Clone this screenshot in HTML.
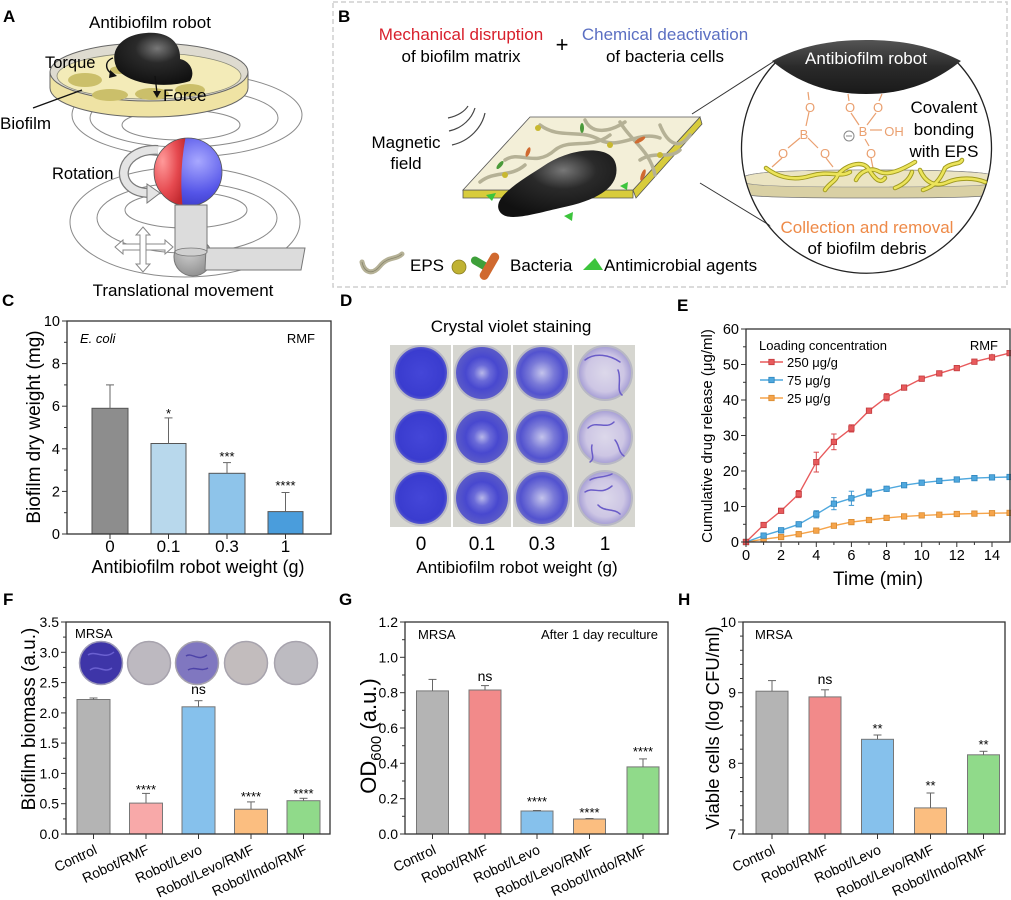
<!DOCTYPE html>
<html><head><meta charset="utf-8">
<style>
html,body{margin:0;padding:0;background:#fff;}
svg{display:block;font-family:"Liberation Sans",Arial,sans-serif;}
</style></head>
<body>
<svg width="1011" height="900" viewBox="0 0 1011 900" xmlns="http://www.w3.org/2000/svg">
<defs>
  <radialGradient id="gBlack" cx="0.55" cy="0.3" r="0.7">
    <stop offset="0" stop-color="#777"/><stop offset="0.4" stop-color="#2a2a2a"/><stop offset="1" stop-color="#111"/>
  </radialGradient>
  <linearGradient id="gRob" x1="0" y1="0" x2="0" y2="1">
    <stop offset="0" stop-color="#555"/><stop offset="0.5" stop-color="#2a2a2a"/><stop offset="1" stop-color="#1a1a1a"/>
  </linearGradient>
  <radialGradient id="gRed" cx="0.35" cy="0.35" r="0.7">
    <stop offset="0" stop-color="#ff9a9a"/><stop offset="0.6" stop-color="#e64a50"/><stop offset="1" stop-color="#c22a30"/>
  </radialGradient>
  <radialGradient id="gBlue" cx="0.6" cy="0.35" r="0.7">
    <stop offset="0" stop-color="#a8a8ff"/><stop offset="0.6" stop-color="#5555e8"/><stop offset="1" stop-color="#3535c0"/>
  </radialGradient>
  <radialGradient id="w0" cx="0.5" cy="0.5" r="0.5">
    <stop offset="0" stop-color="#4446d8"/><stop offset="0.85" stop-color="#3a3ccf"/><stop offset="1" stop-color="#5a5ccc"/>
  </radialGradient>
  <radialGradient id="w1" cx="0.5" cy="0.5" r="0.5">
    <stop offset="0" stop-color="#b8b8ea"/><stop offset="0.3" stop-color="#6a6ad8"/><stop offset="0.6" stop-color="#4848cf"/><stop offset="1" stop-color="#5c5cc8"/>
  </radialGradient>
  <radialGradient id="w2" cx="0.5" cy="0.5" r="0.5">
    <stop offset="0" stop-color="#c4c4ec"/><stop offset="0.45" stop-color="#7a7ad8"/><stop offset="0.8" stop-color="#5252cf"/><stop offset="1" stop-color="#6e6ec8"/>
  </radialGradient>
  <radialGradient id="w3" cx="0.5" cy="0.5" r="0.5">
    <stop offset="0" stop-color="#dcd8ea"/><stop offset="0.7" stop-color="#cdc6e4"/><stop offset="1" stop-color="#a49cd4"/>
  </radialGradient>
  <radialGradient id="gBall" cx="0.4" cy="0.35" r="0.7">
    <stop offset="0" stop-color="#d0d0d0"/><stop offset="1" stop-color="#8e8e8e"/>
  </radialGradient>
  <marker id="mr" markerWidth="7" markerHeight="7" refX="3.5" refY="3.5" markerUnits="userSpaceOnUse"><rect x="0.8" y="0.8" width="5.4" height="5.4" fill="#e85a5c" stroke="#c23b3e" stroke-width="0.8"/></marker>
  <marker id="mb" markerWidth="7" markerHeight="7" refX="3.5" refY="3.5" markerUnits="userSpaceOnUse"><rect x="0.8" y="0.8" width="5.4" height="5.4" fill="#4fa8de" stroke="#2f86bf" stroke-width="0.8"/></marker>
  <marker id="mo" markerWidth="7" markerHeight="7" refX="3.5" refY="3.5" markerUnits="userSpaceOnUse"><rect x="0.8" y="0.8" width="5.4" height="5.4" fill="#f6a44a" stroke="#d88a30" stroke-width="0.8"/></marker>
  <clipPath id="sph"><circle cx="188" cy="172" r="34"/></clipPath>
  <clipPath id="circB"><circle cx="866.5" cy="146" r="125"/></clipPath>
</defs>

<!-- ================= PANEL A ================= -->
<text x="3" y="22" font-size="17" font-weight="bold">A</text>
<g fill="none" stroke="#8a8a8a" stroke-width="1">
  <ellipse cx="187" cy="115" rx="115" ry="42"/>
  <ellipse cx="184" cy="118" rx="94" ry="29"/>
  <ellipse cx="181" cy="125" rx="59" ry="15"/>
  <ellipse cx="185" cy="222" rx="115" ry="55"/>
  <ellipse cx="187" cy="218" rx="90" ry="35"/>
  <ellipse cx="186" cy="210" rx="61" ry="18"/>
</g>
<!-- dish -->
<path d="M50,72 L50,88 A99,29 0 0 0 248,88 L248,72 Z" fill="#efe3a4" stroke="#666" stroke-width="1"/>
<ellipse cx="149" cy="72" rx="99" ry="29" fill="#dedbd0" stroke="#666" stroke-width="1"/>
<ellipse cx="149" cy="76" rx="92" ry="23" fill="#f3ebb8" stroke="#8a8a7a" stroke-width="0.8"/>
<g fill="#cbbf6a">
  <ellipse cx="85" cy="80" rx="17" ry="7"/>
  <ellipse cx="110" cy="95" rx="18" ry="6"/>
  <ellipse cx="152" cy="94" rx="17" ry="6"/>
  <ellipse cx="190" cy="90" rx="15" ry="6"/>
  <ellipse cx="120" cy="70" rx="10" ry="4"/>
</g>
<path d="M118,70 C108,54 118,35 146,33 C170,31 181,44 180,59 C190,61 196,72 190,81 C170,88 132,86 118,70 Z" fill="url(#gBlack)"/>
<line x1="33" y1="108" x2="82" y2="90" stroke="#111" stroke-width="1.3"/>
<path d="M113,58 C104,61 105,71 113,74" fill="none" stroke="#111" stroke-width="1.4"/>
<polygon points="110,70 117,76 109,78" fill="#111"/>
<line x1="155" y1="76" x2="157" y2="93" stroke="#111" stroke-width="1.3"/>
<polygon points="153,91 161,91 157,98" fill="#111"/>
<text x="150" y="28" font-size="17" text-anchor="middle">Antibiofilm robot</text>
<text x="45" y="68" font-size="16.5">Torque</text>
<text x="163" y="101" font-size="17">Force</text>
<text x="0" y="129" font-size="17">Biofilm</text>
<text x="52" y="179" font-size="16.5">Rotation</text>
<!-- rotation arrow -->
<path d="M158,150 C116,148 112,193 150,193" fill="none" stroke="#7a7a7a" stroke-width="10"/>
<path d="M158,150 C116,148 112,193 150,193" fill="none" stroke="#e4e4e4" stroke-width="7.5"/>
<polygon points="147,184 160,193 147,203" fill="#e4e4e4" stroke="#7a7a7a" stroke-width="1"/>
<!-- sphere -->
<g clip-path="url(#sph)">
  <rect x="150" y="135" width="80" height="75" fill="url(#gBlue)"/>
  <path d="M150,135 L186,135 C181,160 180,185 183,210 L150,210 Z" fill="url(#gRed)"/>
</g>
<circle cx="188" cy="172" r="34" fill="none" stroke="#555" stroke-width="0.8"/>
<!-- stem/base -->
<circle cx="193" cy="257" r="19" fill="url(#gBall)" stroke="#777" stroke-width="1"/>
<path d="M206,248 L305,248 L301,270 L205,270 Z" fill="#dcdcdc" stroke="#777" stroke-width="1"/>
<rect x="175" y="205" width="32" height="47" fill="#dcdcdc" stroke="#777" stroke-width="1"/>
<ellipse cx="191" cy="252" rx="16" ry="4" fill="#d0d0d0" stroke="#777" stroke-width="0.8"/>
<!-- cross arrows -->
<polygon points="115,247 123,240 123,244 165,244 165,240 173,247 165,254 165,250 123,250 123,254" fill="#fff" stroke="#888" stroke-width="1"/>
<polygon points="143,227 150,235 146,235 146,264 150,264 143,272 136,264 140,264 140,235 136,235" fill="#fff" stroke="#888" stroke-width="1"/>
<text x="183" y="296" font-size="17" text-anchor="middle">Translational movement</text>

<!-- ================= PANEL B ================= -->
<rect x="333" y="2" width="674" height="285" fill="none" stroke="#cfcfcf" stroke-width="1.5" stroke-dasharray="5,3"/>
<text x="338" y="22" font-size="17" font-weight="bold">B</text>
<text x="461" y="40" font-size="17" text-anchor="middle" fill="#d8202c">Mechanical disruption</text>
<text x="461" y="62" font-size="17" text-anchor="middle">of biofilm matrix</text>
<text x="562" y="52" font-size="22" text-anchor="middle">+</text>
<text x="665" y="40" font-size="17" text-anchor="middle" fill="#5b6fc2">Chemical deactivation</text>
<text x="665" y="62" font-size="17" text-anchor="middle">of bacteria cells</text>
<text x="406" y="148" font-size="17" text-anchor="middle">Magnetic</text>
<text x="406" y="169" font-size="17" text-anchor="middle">field</text>
<g fill="none" stroke="#444" stroke-width="1.2">
  <path d="M448,118 C458,116 465,111 468,106"/>
  <path d="M449,131 C463,128 472,118 475,108"/>
  <path d="M452,145 C470,141 482,127 485,113"/>
</g>
<!-- connecting lines -->
<line x1="692" y1="114" x2="776" y2="60" stroke="#333" stroke-width="1"/>
<line x1="700" y1="183" x2="779" y2="231" stroke="#333" stroke-width="1"/>
<!-- slab -->
<polygon points="463,190 463,198 633,198 633,190" fill="#d8cc3c" stroke="#555" stroke-width="0.8"/>
<polygon points="700,117 702,124 636,198 633,190" fill="#d8cc3c" stroke="#555" stroke-width="0.8"/>
<polygon points="463,190 530,117 700,117 633,190" fill="#f3efd8" stroke="#555" stroke-width="0.8"/>
<g fill="none" stroke="#b5b196" stroke-width="3.5" stroke-linecap="round">
  <path d="M505,160 C520,150 535,168 555,150 C570,138 590,150 610,135"/>
  <path d="M480,182 C495,170 510,178 525,165"/>
  <path d="M540,125 C560,140 580,128 600,140 C620,150 640,130 660,138"/>
  <path d="M620,122 C630,140 650,150 655,175"/>
  <path d="M660,125 C668,145 680,150 690,135"/>
  <path d="M585,120 C592,135 610,132 625,122"/>
  <path d="M560,178 C575,170 595,175 610,168"/>
  <path d="M640,160 C655,150 670,160 680,150"/>
</g>
<g>
  <circle cx="538" cy="128" r="3" fill="#c8b830"/>
  <circle cx="610" cy="145" r="3" fill="#c8b830"/>
  <circle cx="660" cy="155" r="3" fill="#c8b830"/>
  <circle cx="505" cy="175" r="3" fill="#c8b830"/>
  <ellipse cx="582" cy="128" rx="2" ry="5" fill="#4a9a3a"/>
  <ellipse cx="500" cy="165" rx="2" ry="5" fill="#4a9a3a" transform="rotate(40 500 165)"/>
  <ellipse cx="640" cy="140" rx="2" ry="6" fill="#d06a30" transform="rotate(60 640 140)"/>
  <ellipse cx="528" cy="152" rx="2" ry="5" fill="#d06a30" transform="rotate(20 528 152)"/>
  <ellipse cx="643" cy="175" rx="2" ry="6" fill="#d06a30" transform="rotate(20 643 175)"/>
</g>
<path d="M500,212 C490,198 522,180 545,165 C570,148 612,143 616,165 C620,186 600,200 560,208 C530,215 507,222 500,212 Z" fill="url(#gBlack)"/>
<g fill="#3cc43c">
  <polygon points="486,195 496,193 492,201"/>
  <polygon points="564,216 573,212 572,221"/>
  <polygon points="620,186 628,182 627,190"/>
</g>
<!-- legend B -->
<path d="M362,262 C364,272 372,276 380,266 C388,256 396,260 402,254" fill="none" stroke="#b5b196" stroke-width="5" stroke-linecap="round"/>
<path d="M362,262 C364,272 372,276 380,266 C388,256 396,260 402,254" fill="none" stroke="#8a876e" stroke-width="0.8"/>
<text x="410" y="271" font-size="17">EPS</text>
<circle cx="459" cy="267" r="7" fill="#c0b232" stroke="#8a7e20" stroke-width="0.8"/>
<rect x="470" y="260" width="22" height="8" rx="4" fill="#3ea03a" transform="rotate(30 481 264)"/>
<rect x="474" y="262" width="30" height="9" rx="4.5" fill="#d0692f" transform="rotate(-60 489 266)"/>
<text x="510" y="271" font-size="17">Bacteria</text>
<polygon points="583,270 595,258 603,270" fill="#3cc43c"/>
<text x="604" y="271" font-size="17">Antimicrobial agents</text>
<!-- zoomed circle -->
<circle cx="866.5" cy="146" r="125" fill="#fff" stroke="none"/>
<g clip-path="url(#circB)">
  <path d="M741,180 C741,174 760,170 870,170 C985,170 1000,174 1000,180 L1000,192 C1000,196 985,198 870,198 C760,198 741,196 741,192 Z" fill="#d9d0a4" stroke="#777" stroke-width="0.8"/>
  <path d="M741,180 C741,174 760,170 870,170 C985,170 1000,174 1000,180 C1000,185 985,187 870,187 C760,187 741,185 741,180 Z" fill="#ebe4c2" stroke="#888" stroke-width="0.6"/>
</g>
<path d="M776,62 A125,125 0 1 0 957,62" fill="none" stroke="#222" stroke-width="1.3"/>
<path d="M772,61 C800,46 830,40 866,40 C902,40 932,46 961,61 C935,82 905,94 866,94 C827,94 797,82 772,61 Z" fill="url(#gRob)"/>
<text x="866" y="64" font-size="17" text-anchor="middle" fill="#fff">Antibiofilm robot</text>
<!-- chemistry -->
<g stroke="#eaa070" stroke-width="1.2" fill="none">
  <line x1="808" y1="92" x2="809" y2="100"/>
  <line x1="809" y1="112" x2="806" y2="126"/>
  <line x1="800" y1="138" x2="788" y2="148"/>
  <line x1="808" y1="138" x2="818" y2="148"/>
  <line x1="782" y1="158" x2="772" y2="167"/>
  <line x1="826" y1="158" x2="833" y2="167"/>
  <line x1="848" y1="94" x2="849" y2="101"/>
  <line x1="882" y1="94" x2="879" y2="101"/>
  <line x1="851" y1="113" x2="859" y2="125"/>
  <line x1="876" y1="113" x2="867" y2="125"/>
  <line x1="870" y1="130" x2="882" y2="130"/>
  <line x1="865" y1="139" x2="869" y2="146"/>
  <line x1="871" y1="158" x2="873" y2="168"/>
</g>
<g font-size="13" fill="#eaa070" text-anchor="middle">
  <text x="810" y="112">O</text>
  <text x="804" y="139">B</text>
  <text x="783" y="158">O</text>
  <text x="825" y="158">O</text>
  <text x="850" y="112">O</text>
  <text x="878" y="112">O</text>
  <text x="863" y="136">B</text>
  <text x="894" y="136">OH</text>
  <text x="871" y="158">O</text>
</g>
<circle cx="849" cy="136" r="5" fill="none" stroke="#888" stroke-width="1"/>
<line x1="846" y1="136" x2="852" y2="136" stroke="#888" stroke-width="1"/>
<!-- yellow strands -->
<g fill="none" stroke-linecap="round">
  <g stroke="#a09a20" stroke-width="4.5">
    <path d="M766,168 C775,175 790,182 810,176 C830,170 840,178 850,172"/>
    <path d="M838,175 C845,165 862,160 868,168 C874,178 880,185 885,178"/>
    <path d="M856,180 C860,172 870,166 880,172 C890,176 905,168 915,162"/>
    <path d="M825,190 C830,182 836,182 838,174"/>
    <path d="M920,170 C925,182 935,188 948,182 C960,177 975,178 985,182"/>
    <path d="M923,190 C935,186 940,180 945,168 C952,162 960,165 962,160"/>
    <path d="M895,188 C905,184 910,178 912,172"/>
  </g>
  <g stroke="#ece45a" stroke-width="2.6">
    <path d="M766,168 C775,175 790,182 810,176 C830,170 840,178 850,172"/>
    <path d="M838,175 C845,165 862,160 868,168 C874,178 880,185 885,178"/>
    <path d="M856,180 C860,172 870,166 880,172 C890,176 905,168 915,162"/>
    <path d="M825,190 C830,182 836,182 838,174"/>
    <path d="M920,170 C925,182 935,188 948,182 C960,177 975,178 985,182"/>
    <path d="M923,190 C935,186 940,180 945,168 C952,162 960,165 962,160"/>
    <path d="M895,188 C905,184 910,178 912,172"/>
  </g>
</g>
<text x="944" y="113" font-size="17" text-anchor="middle">Covalent</text>
<text x="944" y="135" font-size="17" text-anchor="middle">bonding</text>
<text x="944" y="157" font-size="17" text-anchor="middle">with EPS</text>
<text x="867" y="233" font-size="17" text-anchor="middle" fill="#ee8a48">Collection and removal</text>
<text x="867" y="254" font-size="17" text-anchor="middle">of biofilm debris</text>

<!-- ================= PANEL C ================= -->
<text x="2" y="306" font-size="17" font-weight="bold">C</text>
<g stroke="#555" stroke-width="1">
  <rect x="92" y="408.3" width="36" height="125.7" fill="#8d8d8d"/>
  <rect x="151" y="443.5" width="35" height="90.5" fill="#b8d8ec"/>
  <rect x="209" y="473.3" width="36" height="60.7" fill="#8ec4ea"/>
  <rect x="268" y="511.6" width="35" height="22.4" fill="#4a9ddc"/>
</g>
<g stroke="#666" stroke-width="1">
  <line x1="110" y1="408.3" x2="110" y2="384.9"/><line x1="106" y1="384.9" x2="114" y2="384.9"/>
  <line x1="168.5" y1="443.5" x2="168.5" y2="417.9"/><line x1="164.5" y1="417.9" x2="172.5" y2="417.9"/>
  <line x1="227" y1="473.3" x2="227" y2="462.6"/><line x1="223" y1="462.6" x2="231" y2="462.6"/>
  <line x1="285.5" y1="511.6" x2="285.5" y2="492.5"/><line x1="281.5" y1="492.5" x2="289.5" y2="492.5"/>
</g>
<g font-size="13" text-anchor="middle">
  <text x="168.5" y="418">*</text>
  <text x="227" y="461">***</text>
  <text x="285.5" y="490">****</text>
</g>
<rect x="67" y="321" width="264" height="213" fill="none" stroke="#333" stroke-width="1.3"/>
<g stroke="#333" stroke-width="1">
  <line x1="62" y1="534" x2="67" y2="534"/><line x1="62" y1="491.4" x2="67" y2="491.4"/><line x1="62" y1="448.8" x2="67" y2="448.8"/>
  <line x1="62" y1="406.2" x2="67" y2="406.2"/><line x1="62" y1="363.6" x2="67" y2="363.6"/><line x1="62" y1="321" x2="67" y2="321"/>
  <line x1="64" y1="512.7" x2="67" y2="512.7"/><line x1="64" y1="470.1" x2="67" y2="470.1"/><line x1="64" y1="427.5" x2="67" y2="427.5"/>
  <line x1="64" y1="384.9" x2="67" y2="384.9"/><line x1="64" y1="342.3" x2="67" y2="342.3"/>
  <line x1="110" y1="534" x2="110" y2="539"/><line x1="168.5" y1="534" x2="168.5" y2="539"/>
  <line x1="227" y1="534" x2="227" y2="539"/><line x1="285.5" y1="534" x2="285.5" y2="539"/>
</g>
<g font-size="14.5" text-anchor="end">
  <text x="60" y="539">0</text><text x="60" y="496.4">2</text><text x="60" y="453.8">4</text>
  <text x="60" y="411.2">6</text><text x="60" y="368.6">8</text><text x="60" y="326">10</text>
</g>
<g font-size="17" text-anchor="middle">
  <text x="110" y="552">0</text><text x="168.5" y="552">0.1</text><text x="227" y="552">0.3</text><text x="285.5" y="552">1</text>
</g>
<text x="198" y="573" font-size="18" text-anchor="middle">Antibiofilm robot weight (g)</text>
<text transform="translate(40,427) rotate(-90)" font-size="19" text-anchor="middle">Biofilm dry weight (mg)</text>
<text x="80" y="343" font-size="13" font-style="italic">E. coli</text>
<text x="315" y="343" font-size="13" text-anchor="end">RMF</text>

<!-- ================= PANEL D ================= -->
<text x="340" y="306" font-size="17" font-weight="bold">D</text>
<text x="511" y="332" font-size="17" text-anchor="middle">Crystal violet staining</text>
<rect x="390" y="345" width="245" height="182" fill="#d6d6d0"/>
<g stroke="#fff" stroke-width="2">
  <line x1="452" y1="345" x2="452" y2="527"/><line x1="512" y1="345" x2="512" y2="527"/><line x1="573" y1="345" x2="573" y2="527"/>
</g>
<g stroke="#b8b8c4" stroke-width="2">
  <circle cx="421" cy="373" r="27" fill="url(#w0)"/><circle cx="421" cy="437" r="27" fill="url(#w0)"/><circle cx="421" cy="498" r="27" fill="url(#w0)"/>
  <circle cx="482" cy="373" r="27" fill="url(#w1)"/><circle cx="482" cy="437" r="27" fill="url(#w1)"/><circle cx="482" cy="498" r="27" fill="url(#w1)"/>
  <circle cx="542" cy="373" r="27" fill="url(#w2)"/><circle cx="542" cy="437" r="27" fill="url(#w2)"/><circle cx="542" cy="498" r="27" fill="url(#w2)"/>
  <circle cx="605" cy="373" r="27" fill="url(#w3)"/><circle cx="605" cy="437" r="27" fill="url(#w3)"/><circle cx="605" cy="498" r="27" fill="url(#w3)"/>
</g>
<g fill="none" stroke="#6a5cc8" stroke-width="1.5" stroke-linecap="round">
  <path d="M585,360 C595,352 610,355 620,362"/><path d="M618,370 C622,380 616,390 622,395"/>
  <path d="M588,428 C596,420 606,430 614,422"/><path d="M592,445 C590,452 596,458 590,462"/><path d="M615,440 C620,446 618,452 624,456"/>
  <path d="M585,492 C594,486 600,496 612,486"/><path d="M598,505 C604,512 614,508 620,514"/><path d="M590,480 C596,476 604,478 612,474"/>
</g>
<g font-size="19" text-anchor="middle">
  <text x="421" y="550">0</text><text x="482" y="550">0.1</text><text x="542" y="550">0.3</text><text x="605" y="550">1</text>
</g>
<text x="517" y="573" font-size="17" text-anchor="middle">Antibiofilm robot weight (g)</text>

<!-- ================= PANEL E ================= -->
<text x="677" y="311" font-size="17" font-weight="bold">E</text>
<g stroke="#d84a4c" stroke-width="1">
  <line x1="798.7" y1="490.5" x2="798.7" y2="497.6"/><line x1="796" y1="490.5" x2="801.4" y2="490.5"/><line x1="796" y1="497.6" x2="801.4" y2="497.6"/>
  <line x1="816.3" y1="452.2" x2="816.3" y2="472"/><line x1="813.6" y1="452.2" x2="819" y2="452.2"/><line x1="813.6" y1="472" x2="819" y2="472"/>
  <line x1="833.9" y1="434" x2="833.9" y2="449.7"/><line x1="831.2" y1="434" x2="836.6" y2="434"/><line x1="831.2" y1="449.7" x2="836.6" y2="449.7"/>
  <line x1="851.4" y1="424.8" x2="851.4" y2="432"/><line x1="848.7" y1="424.8" x2="854.1" y2="424.8"/><line x1="848.7" y1="432" x2="854.1" y2="432"/>
  <line x1="886.6" y1="393.6" x2="886.6" y2="400.8"/><line x1="883.9" y1="393.6" x2="889.3" y2="393.6"/><line x1="883.9" y1="400.8" x2="889.3" y2="400.8"/>
  <line x1="904.1" y1="384.6" x2="904.1" y2="390.6"/><line x1="939.3" y1="370.4" x2="939.3" y2="376.4"/><line x1="992" y1="353.8" x2="992" y2="361"/>
</g>
<g stroke="#3f98d2" stroke-width="1">
  <line x1="816.3" y1="510.7" x2="816.3" y2="517.9"/><line x1="813.6" y1="510.7" x2="819" y2="510.7"/><line x1="813.6" y1="517.9" x2="819" y2="517.9"/>
  <line x1="833.9" y1="497.6" x2="833.9" y2="509.7"/><line x1="831.2" y1="497.6" x2="836.6" y2="497.6"/><line x1="831.2" y1="509.7" x2="836.6" y2="509.7"/>
  <line x1="851.4" y1="491.2" x2="851.4" y2="505.4"/><line x1="848.7" y1="491.2" x2="854.1" y2="491.2"/><line x1="848.7" y1="505.4" x2="854.1" y2="505.4"/>
  <line x1="869" y1="489.1" x2="869" y2="496.3"/><line x1="866.3" y1="489.1" x2="871.7" y2="489.1"/><line x1="866.3" y1="496.3" x2="871.7" y2="496.3"/>
  <line x1="886.6" y1="485.8" x2="886.6" y2="491.8"/>
</g>
<polyline fill="none" stroke="#f6a44a" stroke-width="1.4" marker-start="url(#mo)" marker-mid="url(#mo)" marker-end="url(#mo)"
 points="746,542 763.6,539.2 781.1,537 798.7,534.2 816.3,530.6 833.9,525.7 851.4,522.1 869,520 886.6,517.9 904.1,516.4 921.7,515.4 939.3,514.7 956.8,514 974.4,513.6 992,513.2 1009.6,512.9"/>
<polyline fill="none" stroke="#4fa8de" stroke-width="1.4" marker-start="url(#mb)" marker-mid="url(#mb)" marker-end="url(#mb)"
 points="746,542 763.6,535.6 781.1,530.3 798.7,524.3 816.3,514.3 833.9,503.7 851.4,498.3 869,492.7 886.6,488.8 904.1,485.2 921.7,482.7 939.3,480.9 956.8,479.5 974.4,478.1 992,477.4 1009.6,477"/>
<polyline fill="none" stroke="#e85a5c" stroke-width="1.4" marker-start="url(#mr)" marker-mid="url(#mr)" marker-end="url(#mr)"
 points="746,542 763.6,525 781.1,510.8 798.7,494.1 816.3,462.1 833.9,441.9 851.4,428.4 869,410.7 886.6,397.2 904.1,387.6 921.7,378.7 939.3,373.4 956.8,368.1 974.4,361.7 992,357.4 1009.6,353.1"/>
<rect x="746" y="329" width="264" height="213" fill="none" stroke="#333" stroke-width="1.3"/>
<g stroke="#333" stroke-width="1">
  <line x1="741" y1="542" x2="746" y2="542"/><line x1="741" y1="506.5" x2="746" y2="506.5"/><line x1="741" y1="471" x2="746" y2="471"/>
  <line x1="741" y1="435.5" x2="746" y2="435.5"/><line x1="741" y1="400" x2="746" y2="400"/><line x1="741" y1="364.5" x2="746" y2="364.5"/><line x1="741" y1="329" x2="746" y2="329"/>
  <line x1="743" y1="524.3" x2="746" y2="524.3"/><line x1="743" y1="488.8" x2="746" y2="488.8"/><line x1="743" y1="453.3" x2="746" y2="453.3"/>
  <line x1="743" y1="417.8" x2="746" y2="417.8"/><line x1="743" y1="382.3" x2="746" y2="382.3"/><line x1="743" y1="346.8" x2="746" y2="346.8"/>
  <line x1="746" y1="542" x2="746" y2="547"/><line x1="781.1" y1="542" x2="781.1" y2="547"/><line x1="816.3" y1="542" x2="816.3" y2="547"/>
  <line x1="851.4" y1="542" x2="851.4" y2="547"/><line x1="886.6" y1="542" x2="886.6" y2="547"/><line x1="921.7" y1="542" x2="921.7" y2="547"/>
  <line x1="956.8" y1="542" x2="956.8" y2="547"/><line x1="992" y1="542" x2="992" y2="547"/>
  <line x1="763.6" y1="542" x2="763.6" y2="545"/><line x1="798.7" y1="542" x2="798.7" y2="545"/><line x1="833.9" y1="542" x2="833.9" y2="545"/>
  <line x1="869" y1="542" x2="869" y2="545"/><line x1="904.1" y1="542" x2="904.1" y2="545"/><line x1="939.3" y1="542" x2="939.3" y2="545"/><line x1="974.4" y1="542" x2="974.4" y2="545"/>
</g>
<g font-size="14.5" text-anchor="end">
  <text x="739" y="547">0</text><text x="739" y="511.5">10</text><text x="739" y="476">20</text><text x="739" y="440.5">30</text>
  <text x="739" y="405">40</text><text x="739" y="369.5">50</text><text x="739" y="334">60</text>
</g>
<g font-size="14.5" text-anchor="middle">
  <text x="746" y="560">0</text><text x="781.1" y="560">2</text><text x="816.3" y="560">4</text><text x="851.4" y="560">6</text>
  <text x="886.6" y="560">8</text><text x="921.7" y="560">10</text><text x="956.8" y="560">12</text><text x="992" y="560">14</text>
</g>
<text x="878" y="585" font-size="19" text-anchor="middle">Time (min)</text>
<text transform="translate(712,436) rotate(-90)" font-size="15" text-anchor="middle">Cumulative drug release (μg/ml)</text>
<text x="759" y="350" font-size="13">Loading concentration</text>
<text x="998" y="350" font-size="13" text-anchor="end">RMF</text>
<line x1="760" y1="362" x2="783" y2="362" stroke="#e85a5c" stroke-width="1.4"/>
<rect x="768.8" y="359.3" width="5.4" height="5.4" fill="#e85a5c" stroke="#c23b3e" stroke-width="0.8"/>
<text x="787" y="367" font-size="13">250 μg/g</text>
<line x1="760" y1="380" x2="783" y2="380" stroke="#4fa8de" stroke-width="1.4"/>
<rect x="768.8" y="377.3" width="5.4" height="5.4" fill="#4fa8de" stroke="#2f86bf" stroke-width="0.8"/>
<text x="787" y="385" font-size="13">75 μg/g</text>
<line x1="760" y1="398" x2="783" y2="398" stroke="#f6a44a" stroke-width="1.4"/>
<rect x="768.8" y="395.3" width="5.4" height="5.4" fill="#f6a44a" stroke="#d88a30" stroke-width="0.8"/>
<text x="787" y="403" font-size="13">25 μg/g</text>

<!-- ================= PANEL F ================= -->
<text x="3" y="605" font-size="17" font-weight="bold">F</text>
<g stroke="#777" stroke-width="1">
  <rect x="77" y="699.5" width="33" height="134.5" fill="#b4b4b4"/>
  <rect x="129.5" y="803.1" width="33" height="30.9" fill="#f8a9a9"/>
  <rect x="182" y="706.8" width="33" height="127.2" fill="#86c1ec"/>
  <rect x="234.5" y="809.2" width="33" height="24.8" fill="#fbbe80"/>
  <rect x="287" y="800.7" width="33" height="33.3" fill="#90da8a"/>
</g>
<g stroke="#666" stroke-width="1">
  <line x1="93.5" y1="699.5" x2="93.5" y2="698"/><line x1="89.5" y1="698" x2="97.5" y2="698"/>
  <line x1="146" y1="803.1" x2="146" y2="793.4"/><line x1="142" y1="793.4" x2="150" y2="793.4"/>
  <line x1="198.5" y1="706.8" x2="198.5" y2="700.7"/><line x1="194.5" y1="700.7" x2="202.5" y2="700.7"/>
  <line x1="251" y1="809.2" x2="251" y2="801.9"/><line x1="247" y1="801.9" x2="255" y2="801.9"/>
  <line x1="303.5" y1="800.7" x2="303.5" y2="798.3"/><line x1="299.5" y1="798.3" x2="307.5" y2="798.3"/>
</g>
<g font-size="13" text-anchor="middle">
  <text x="146" y="794">****</text>
  <text x="198.5" y="694" font-size="14">ns</text>
  <text x="251" y="801">****</text>
  <text x="303.5" y="798">****</text>
</g>
<circle cx="101" cy="663" r="21.5" fill="#3e35a8" stroke="#9d9ab8" stroke-width="1.5"/>
<g fill="none" stroke="#6a60d0" stroke-width="1.5"><path d="M88,655 C95,650 105,660 114,652"/><path d="M90,670 C98,664 104,674 112,668"/></g>
<circle cx="149" cy="663" r="21.5" fill="#bdb9c0" stroke="#a7a3ad" stroke-width="1.5"/>
<circle cx="197" cy="663" r="21.5" fill="#8077c0" stroke="#a7a3ad" stroke-width="1.5"/>
<g fill="none" stroke="#4d43a8" stroke-width="1.5"><path d="M186,656 C192,652 198,662 207,655"/><path d="M188,670 C194,666 202,672 208,668"/></g>
<circle cx="246" cy="663" r="21.5" fill="#c2bcbd" stroke="#a7a3ad" stroke-width="1.5"/>
<circle cx="296" cy="663" r="21.5" fill="#bdbbc1" stroke="#a7a3ad" stroke-width="1.5"/>
<rect x="66" y="622" width="264" height="212" fill="none" stroke="#333" stroke-width="1.3"/>
<g stroke="#333" stroke-width="1">
  <line x1="61" y1="834" x2="66" y2="834"/><line x1="61" y1="803.7" x2="66" y2="803.7"/><line x1="61" y1="773.4" x2="66" y2="773.4"/>
  <line x1="61" y1="743.1" x2="66" y2="743.1"/><line x1="61" y1="712.9" x2="66" y2="712.9"/><line x1="61" y1="682.6" x2="66" y2="682.6"/>
  <line x1="61" y1="652.3" x2="66" y2="652.3"/><line x1="61" y1="622" x2="66" y2="622"/>
  <line x1="63" y1="818.9" x2="66" y2="818.9"/><line x1="63" y1="788.6" x2="66" y2="788.6"/><line x1="63" y1="758.3" x2="66" y2="758.3"/>
  <line x1="63" y1="728" x2="66" y2="728"/><line x1="63" y1="697.7" x2="66" y2="697.7"/><line x1="63" y1="667.4" x2="66" y2="667.4"/><line x1="63" y1="637.1" x2="66" y2="637.1"/>
  <line x1="93.5" y1="834" x2="93.5" y2="839"/><line x1="146" y1="834" x2="146" y2="839"/><line x1="198.5" y1="834" x2="198.5" y2="839"/>
  <line x1="251" y1="834" x2="251" y2="839"/><line x1="303.5" y1="834" x2="303.5" y2="839"/>
</g>
<g font-size="14" text-anchor="end">
  <text x="59" y="839">0.0</text><text x="59" y="808.7">0.5</text><text x="59" y="778.4">1.0</text><text x="59" y="748.1">1.5</text>
  <text x="59" y="717.9">2.0</text><text x="59" y="687.6">2.5</text><text x="59" y="657.3">3.0</text><text x="59" y="627">3.5</text>
</g>
<g font-size="14" text-anchor="end">
  <text transform="translate(98,853) rotate(-25)">Control</text>
  <text transform="translate(150,853) rotate(-25)">Robot/RMF</text>
  <text transform="translate(203,853) rotate(-25)">Robot/Levo</text>
  <text transform="translate(255,853) rotate(-25)">Robot/Levo/RMF</text>
  <text transform="translate(308,853) rotate(-25)">Robot/Indo/RMF</text>
</g>
<text transform="translate(35,719) rotate(-90)" font-size="19" text-anchor="middle">Biofilm biomass (a.u.)</text>
<text x="75" y="638" font-size="13">MRSA</text>

<!-- ================= PANEL G ================= -->
<text x="339" y="605" font-size="17" font-weight="bold">G</text>
<g stroke="#777" stroke-width="1">
  <rect x="416.5" y="690.9" width="32" height="143.1" fill="#b4b4b4"/>
  <rect x="469" y="690" width="32" height="144" fill="#f28a8a"/>
  <rect x="521" y="811" width="32" height="23" fill="#86c1ec"/>
  <rect x="573.5" y="819" width="32" height="15" fill="#fbbe80"/>
  <rect x="627" y="766.9" width="32" height="67.1" fill="#90da8a"/>
</g>
<g stroke="#666" stroke-width="1">
  <line x1="432.5" y1="690.9" x2="432.5" y2="679.4"/><line x1="428.5" y1="679.4" x2="436.5" y2="679.4"/>
  <line x1="485" y1="690" x2="485" y2="685.6"/><line x1="481" y1="685.6" x2="489" y2="685.6"/>
  <line x1="533" y1="810.5" x2="541" y2="810.5"/>
  <line x1="585.5" y1="818.5" x2="593.5" y2="818.5"/>
  <line x1="643" y1="766.9" x2="643" y2="758.9"/><line x1="639" y1="758.9" x2="647" y2="758.9"/>
</g>
<g font-size="13" text-anchor="middle">
  <text x="485" y="681" font-size="14">ns</text>
  <text x="537" y="806">****</text>
  <text x="589.5" y="817">****</text>
  <text x="643" y="756">****</text>
</g>
<rect x="405" y="622" width="263" height="212" fill="none" stroke="#333" stroke-width="1.3"/>
<g stroke="#333" stroke-width="1">
  <line x1="400" y1="834" x2="405" y2="834"/><line x1="400" y1="798.7" x2="405" y2="798.7"/><line x1="400" y1="763.3" x2="405" y2="763.3"/>
  <line x1="400" y1="728" x2="405" y2="728"/><line x1="400" y1="692.7" x2="405" y2="692.7"/><line x1="400" y1="657.3" x2="405" y2="657.3"/><line x1="400" y1="622" x2="405" y2="622"/>
  <line x1="402" y1="816.3" x2="405" y2="816.3"/><line x1="402" y1="781" x2="405" y2="781"/><line x1="402" y1="745.7" x2="405" y2="745.7"/>
  <line x1="402" y1="710.3" x2="405" y2="710.3"/><line x1="402" y1="675" x2="405" y2="675"/><line x1="402" y1="639.7" x2="405" y2="639.7"/>
  <line x1="432.5" y1="834" x2="432.5" y2="839"/><line x1="485" y1="834" x2="485" y2="839"/><line x1="537" y1="834" x2="537" y2="839"/>
  <line x1="589.5" y1="834" x2="589.5" y2="839"/><line x1="643" y1="834" x2="643" y2="839"/>
</g>
<g font-size="14" text-anchor="end">
  <text x="398" y="839">0.0</text><text x="398" y="803.7">0.2</text><text x="398" y="768.3">0.4</text><text x="398" y="733">0.6</text>
  <text x="398" y="697.7">0.8</text><text x="398" y="662.3">1.0</text><text x="398" y="627">1.2</text>
</g>
<g font-size="14" text-anchor="end">
  <text transform="translate(437,853) rotate(-25)">Control</text>
  <text transform="translate(489,853) rotate(-25)">Robot/RMF</text>
  <text transform="translate(541,853) rotate(-25)">Robot/Levo</text>
  <text transform="translate(594,853) rotate(-25)">Robot/Levo/RMF</text>
  <text transform="translate(647,853) rotate(-25)">Robot/Indo/RMF</text>
</g>
<text transform="translate(376,736) rotate(-90)" font-size="22" text-anchor="middle">OD<tspan font-size="15" dy="5">600</tspan><tspan dy="-5"> (a.u.)</tspan></text>
<text x="418" y="639" font-size="13">MRSA</text>
<text x="658" y="639" font-size="13" text-anchor="end">After 1 day reculture</text>

<!-- ================= PANEL H ================= -->
<text x="678" y="605" font-size="17" font-weight="bold">H</text>
<g stroke="#777" stroke-width="1">
  <rect x="756" y="691.2" width="32" height="142.8" fill="#b4b4b4"/>
  <rect x="809" y="696.9" width="32" height="137.1" fill="#f28a8a"/>
  <rect x="861.5" y="739.3" width="32" height="94.7" fill="#86c1ec"/>
  <rect x="914.5" y="807.9" width="32" height="26.1" fill="#fbbe80"/>
  <rect x="967.5" y="754.8" width="32" height="79.2" fill="#90da8a"/>
</g>
<g stroke="#666" stroke-width="1">
  <line x1="772" y1="691.2" x2="772" y2="680.6"/><line x1="768" y1="680.6" x2="776" y2="680.6"/>
  <line x1="825" y1="696.9" x2="825" y2="689.8"/><line x1="821" y1="689.8" x2="829" y2="689.8"/>
  <line x1="877.5" y1="739.3" x2="877.5" y2="735"/><line x1="873.5" y1="735" x2="881.5" y2="735"/>
  <line x1="930.5" y1="807.9" x2="930.5" y2="793"/><line x1="926.5" y1="793" x2="934.5" y2="793"/>
  <line x1="983.5" y1="754.8" x2="983.5" y2="751.3"/><line x1="979.5" y1="751.3" x2="987.5" y2="751.3"/>
</g>
<g font-size="13" text-anchor="middle">
  <text x="825" y="684" font-size="14">ns</text>
  <text x="877.5" y="733">**</text>
  <text x="930.5" y="790">**</text>
  <text x="983.5" y="749">**</text>
</g>
<rect x="743" y="622" width="262" height="212" fill="none" stroke="#333" stroke-width="1.3"/>
<g stroke="#333" stroke-width="1">
  <line x1="738" y1="834" x2="743" y2="834"/><line x1="738" y1="763.3" x2="743" y2="763.3"/><line x1="738" y1="692.7" x2="743" y2="692.7"/><line x1="738" y1="622" x2="743" y2="622"/>
  <line x1="740" y1="819.9" x2="743" y2="819.9"/><line x1="740" y1="805.7" x2="743" y2="805.7"/><line x1="740" y1="791.6" x2="743" y2="791.6"/><line x1="740" y1="777.5" x2="743" y2="777.5"/>
  <line x1="740" y1="749.2" x2="743" y2="749.2"/><line x1="740" y1="735.1" x2="743" y2="735.1"/><line x1="740" y1="720.9" x2="743" y2="720.9"/><line x1="740" y1="706.8" x2="743" y2="706.8"/>
  <line x1="740" y1="678.5" x2="743" y2="678.5"/><line x1="740" y1="664.4" x2="743" y2="664.4"/><line x1="740" y1="650.3" x2="743" y2="650.3"/><line x1="740" y1="636.1" x2="743" y2="636.1"/>
  <line x1="772" y1="834" x2="772" y2="839"/><line x1="825" y1="834" x2="825" y2="839"/><line x1="877.5" y1="834" x2="877.5" y2="839"/>
  <line x1="930.5" y1="834" x2="930.5" y2="839"/><line x1="983.5" y1="834" x2="983.5" y2="839"/>
</g>
<g font-size="14" text-anchor="end">
  <text x="736" y="839">7</text><text x="736" y="768.3">8</text><text x="736" y="697.7">9</text><text x="736" y="627">10</text>
</g>
<g font-size="14" text-anchor="end">
  <text transform="translate(776,853) rotate(-25)">Control</text>
  <text transform="translate(829,853) rotate(-25)">Robot/RMF</text>
  <text transform="translate(882,853) rotate(-25)">Robot/Levo</text>
  <text transform="translate(935,853) rotate(-25)">Robot/Levo/RMF</text>
  <text transform="translate(988,853) rotate(-25)">Robot/Indo/RMF</text>
</g>
<text transform="translate(719,728) rotate(-90)" font-size="18.5" text-anchor="middle">Viable cells (log CFU/ml)</text>
<text x="755" y="639" font-size="13">MRSA</text>
</svg>
</body></html>
